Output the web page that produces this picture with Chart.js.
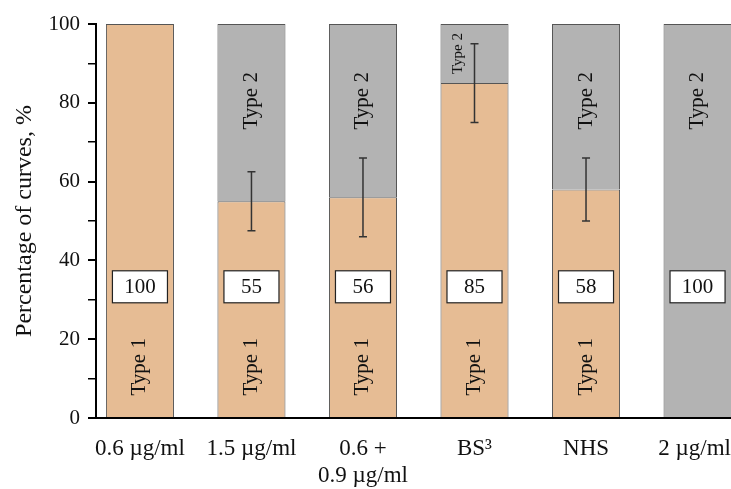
<!DOCTYPE html>
<html>
<head>
<meta charset="utf-8">
<script src="https://cdn.jsdelivr.net/npm/chart.js@4/dist/chart.umd.min.js"></script>
<style>
  html, body { margin: 0; padding: 0; background: #fff; }
  #wrap { width: 731px; height: 489px; }
</style>
</head>
<body>
<div id="wrap"><canvas id="myChart" width="731" height="489"></canvas></div>
<script>
// categories and values
var xPos = [0, 1, 2, 3, 4, 5];
var xLabels = ["0.6 \u00b5g/ml", "1.5 \u00b5g/ml", ["0.6 +", "0.9 \u00b5g/ml"], "BS\u00b3", "NHS", "2 \u00b5g/ml\u00a0"];
var type1 = [100, 55, 56, 85, 58, 0];
var type2 = [0, 45, 44, 15, 42, 100];
var errLow = [null, 47.5, 46, 75, 50, null];
var errHigh = [null, 62.5, 66, 95, 66, null];
var boxValues = [100, 55, 56, 85, 58, 100];
var yTicks = [0, 20, 40, 60, 80, 100];

var SERIF = "'Liberation Serif', 'Times New Roman', serif";

function toPoints(vals) {
  return vals.map(function(v, i) {
    return {x: xPos[i], y: v === 0 ? null : v};
  });
}

// error bars, value boxes and the "Type" captions
var overlay = {
  id: 'overlay',
  afterDatasetsDraw: function(chart) {
    var ctx = chart.ctx;
    var xs = chart.scales.x;
    var ys = chart.scales.y;
    var bar = chart.getDatasetMeta(0).data.find(function(b) { return b && b.width; }) ||
              chart.getDatasetMeta(1).data.find(function(b) { return b && b.width; });
    var bw = bar.width;

    ctx.save();
    ctx.fillStyle = '#111';
    ctx.textAlign = 'center';
    ctx.textBaseline = 'middle';

    for (var i = 0; i < xPos.length; i++) {
      var cx = xs.getPixelForValue(xPos[i]);

      // Type 1 caption
      if (type1[i] > 0) {
        ctx.save();
        ctx.translate(cx, ys.getPixelForValue(13));
        ctx.rotate(-Math.PI / 2);
        ctx.font = '21px ' + SERIF;
        ctx.fillText('Type 1', 0, 0);
        ctx.restore();
      }
      // Type 2 caption
      if (type2[i] > 0) {
        ctx.save();
        if (type2[i] < 20) {
          ctx.translate(cx - 16, ys.getPixelForValue(type1[i] + type2[i] / 2));
          ctx.font = '15px ' + SERIF;
        } else {
          ctx.translate(cx, ys.getPixelForValue(80.5));
          ctx.font = '21px ' + SERIF;
        }
        ctx.rotate(-Math.PI / 2);
        ctx.fillText('Type 2', 0, 0);
        ctx.restore();
      }

      // error bar
      if (errLow[i] != null) {
        var yl = ys.getPixelForValue(errLow[i]);
        var yh = ys.getPixelForValue(errHigh[i]);
        ctx.strokeStyle = '#333';
        ctx.lineWidth = 1.5;
        ctx.beginPath();
        ctx.moveTo(cx, yl); ctx.lineTo(cx, yh);
        ctx.moveTo(cx - 4, yl); ctx.lineTo(cx + 4, yl);
        ctx.moveTo(cx - 4, yh); ctx.lineTo(cx + 4, yh);
        ctx.stroke();
      }

      // value box
      var bwid = bw - 13;
      var by = ys.getPixelForValue(33.3);
      ctx.fillStyle = '#fff';
      ctx.fillRect(cx - bwid / 2, by - 16, bwid, 32);
      ctx.strokeStyle = '#222';
      ctx.lineWidth = 1.2;
      ctx.strokeRect(cx - bwid / 2, by - 16, bwid, 32);
      ctx.fillStyle = '#111';
      ctx.font = '21px ' + SERIF;
      ctx.fillText(String(boxValues[i]), cx, by + 1);
    }
    ctx.restore();
  }
};

var ctx = document.getElementById('myChart').getContext('2d');
var chart = new Chart(ctx, {
  type: 'bar',
  data: {
    datasets: [{
      label: 'Type 1',
      data: toPoints(type1),
      backgroundColor: '#E6BC94',
      borderColor: '#555',
      borderWidth: 1,
      categoryPercentage: 0.61,
      barPercentage: 1
    }, {
      label: 'Type 2',
      data: toPoints(type2),
      backgroundColor: '#B3B3B3',
      borderColor: '#555',
      borderWidth: 1,
      categoryPercentage: 0.61,
      barPercentage: 1
    }]
  },
  options: {
    responsive: false,
    animation: false,
    layout: { padding: { top: 24, right: 0, left: 0, bottom: 0 } },
    plugins: {
      legend: { display: false },
      tooltip: { enabled: false }
    },
    scales: {
      x: {
        type: 'linear',
        stacked: true,
        offset: false,
        min: -0.394,
        max: 5.3,
        afterBuildTicks: function(axis) {
          axis.ticks = xPos.map(function(v) { return {value: v}; });
        },
        afterFit: function(axis) {
          axis.height = 71;
          axis.paddingLeft = 0;
          axis.paddingRight = 0;
        },
        grid: { display: false, drawTicks: false, offset: false },
        border: { display: true, color: '#000', width: 2 },
        ticks: {
          autoSkip: false,
          maxRotation: 0,
          padding: 17,
          color: '#111',
          font: { family: SERIF, size: 23, lineHeight: 1.18 },
          callback: function(value) { return xLabels[value]; }
        }
      },
      y: {
        stacked: true,
        min: 0,
        max: 100,
        afterBuildTicks: function(axis) {
          var t = [];
          for (var v = 0; v <= 100; v += 10) t.push({value: v});
          axis.ticks = t;
        },
        afterFit: function(axis) { axis.width = 96; },
        grid: {
          drawOnChartArea: false,
          drawTicks: true,
          tickLength: 8,
          color: '#000',
          lineWidth: function(c) { return (c.tick && yTicks.indexOf(c.tick.value) >= 0) ? 2 : 1.5; }
        },
        border: { display: true, color: '#000', width: 2 },
        ticks: {
          padding: 8,
          color: '#111',
          font: { family: SERIF, size: 21 },
          callback: function(value) { return yTicks.indexOf(value) >= 0 ? value : ''; }
        },
        title: {
          display: true,
          text: 'Percentage of curves, %',
          color: '#111',
          font: { family: SERIF, size: 24 },
          padding: { top: 10, bottom: 0 }
        }
      }
    }
  },
  plugins: [overlay]
});
</script>
</body>
</html>
